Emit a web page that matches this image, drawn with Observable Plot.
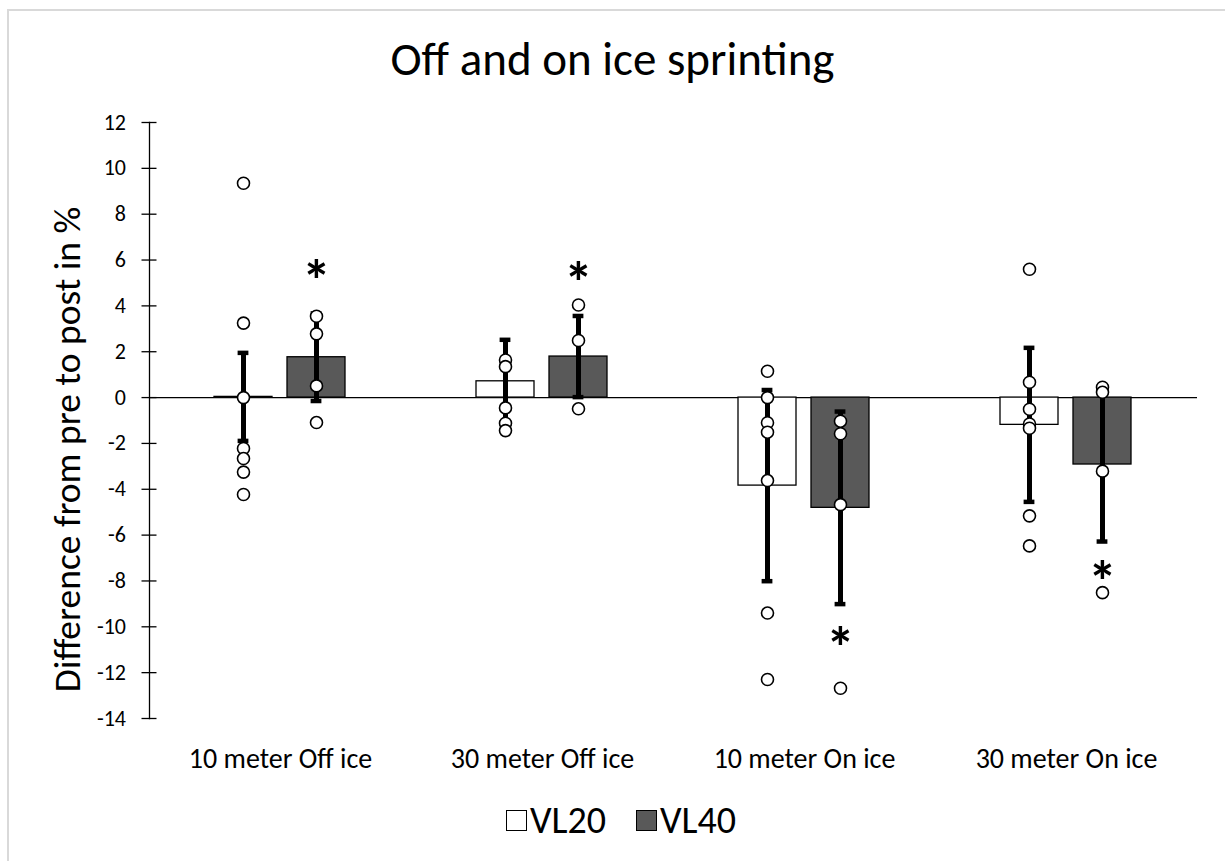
<!DOCTYPE html>
<html>
<head>
<meta charset="utf-8">
<script src="https://cdn.jsdelivr.net/npm/d3@7"></script>
<script src="https://cdn.jsdelivr.net/npm/@observablehq/plot@0.6"></script>
<style>
  body { margin: 0; background: #fff; font-family: Carlito, Lato, sans-serif; color: #000; }
  #wrap { position: relative; width: 1225px; height: 861px; overflow: hidden; background: #fff; }
  #border { position: absolute; left: 7px; top: 9px; width: 1400px; height: 1000px;
            border-left: 2px solid #d9d9d9; border-top: 2px solid #d9d9d9; }
  #title { position: absolute; left: 0; top: 36px; width: 1225px; text-align: center;
           font-size: 47px; line-height: 47px; }
  #plot { position: absolute; left: 0; top: 100px; }
  #legend { position: absolute; left: 506px; top: 801px; display: flex; align-items: center;
            font-size: 38px; line-height: 38px; white-space: nowrap; }
  .sw { width: 21px; height: 21px; border: 1px solid #000; box-sizing: border-box; margin-right: 3px; }
</style>
</head>
<body>
<div id="wrap">
  <div id="border"></div>
  <div id="title">Off and on ice sprinting</div>
  <div id="plot"></div>
  <div id="legend">
    <div class="sw" style="background:#ffffff"></div><span>VL20</span>
    <div class="sw" style="background:#595959;margin-left:30px"></div><span>VL40</span>
  </div>
</div>
<script>
// ---- data ----
const categories = ["10 meter Off ice", "30 meter Off ice", "10 meter On ice", "30 meter On ice"];
const groups = ["VL20", "VL40"];
const meanVL20 = [0.03, 0.71, -3.84, -1.19];
const meanVL40 = [1.76, 1.79, -4.81, -2.92];
const sdVL20 = [1.92, 1.81, 4.17, 3.36];
const sdVL40 = [1.91, 1.77, 4.2, 3.36];
const pointsVL20 = [
  [9.35, 3.25, 0.0, -2.22, -2.66, -3.25, -4.23],
  [1.64, 1.35, -0.45, -1.12, -1.44],
  [1.15, 0.0, -1.1, -1.51, -3.62, -9.4, -12.3],
  [5.6, 0.67, -0.51, -1.15, -1.34, -5.16, -6.47]
];
const pointsVL40 = [
  [3.55, 2.78, 0.51, -1.09],
  [4.04, 2.49, -0.49],
  [-1.03, -1.58, -4.67, -12.68],
  [0.45, 0.23, -3.21, -8.51]
];
const starVL40 = [5.6, 5.5, -10.4, -7.55];
const yTicks = [-14, -12, -10, -8, -6, -4, -2, 0, 2, 4, 6, 8, 10, 12];
const yLabel = "Difference from pre to post in %";

// ---- tables built from the arrays ----
const rows = categories.flatMap((c, i) => [
  {cat: c, grp: "VL20", mean: meanVL20[i], sd: sdVL20[i]},
  {cat: c, grp: "VL40", mean: meanVL40[i], sd: sdVL40[i]}
]);
const pts = categories.flatMap((c, i) => [
  ...pointsVL20[i].map(v => ({cat: c, grp: "VL20", v})),
  ...pointsVL40[i].map(v => ({cat: c, grp: "VL40", v}))
]);
const stars = categories.map((c, i) => ({cat: c, grp: "VL40", v: starVL40[i]}));

const chart = Plot.plot({
  width: 1225,
  height: 690,
  marginLeft: 148,
  marginRight: 27,
  marginTop: 22,
  marginBottom: 72,
  style: {fontFamily: "Carlito, Lato, sans-serif", color: "#000", background: "transparent", overflow: "visible"},
  fx: {domain: categories, padding: 0, label: null},
  x: {domain: groups, paddingInner: 0.2, paddingOuter: 0.872, axis: null},
  y: {domain: [-14, 12]},
  color: {domain: groups, range: ["#ffffff", "#595959"]},
  marks: [
    Plot.ruleY([0], {stroke: "#000", strokeWidth: 1.2}),
    Plot.barY(rows, {fx: "cat", x: "grp", y: "mean", fill: "grp", stroke: "#000", strokeWidth: 1.3}),
    Plot.ruleX(rows, {fx: "cat", x: "grp", y1: d => d.mean - d.sd, y2: d => d.mean + d.sd, stroke: "#000", strokeWidth: 5}),
    Plot.tickY(rows, {fx: "cat", x: "grp", y: d => d.mean + d.sd, stroke: "#000", strokeWidth: 4.5, insetLeft: 23.6, insetRight: 23.6}),
    Plot.tickY(rows, {fx: "cat", x: "grp", y: d => d.mean - d.sd, stroke: "#000", strokeWidth: 4.5, insetLeft: 23.6, insetRight: 23.6}),
    Plot.dot(pts, {fx: "cat", x: "grp", y: "v", r: 6, fill: "#fff", stroke: "#000", strokeWidth: 1.6}),
    Plot.text(stars, {fx: "cat", x: "grp", y: "v", text: () => "*", fontSize: 58, fontWeight: "bold", fill: "#000", dy: 13}),
    Plot.frame({anchor: "left", facetAnchor: "left", stroke: "#000", strokeWidth: 1.3}),
    Plot.axisY({ticks: yTicks, tickFormat: d => `${d}`, tickSize: 15, dx: 7.5, tickPadding: 16, fontSize: 22, label: null, stroke: "#000", strokeWidth: 1.3}),
    Plot.axisFx({anchor: "bottom", tickSize: 0, tickPadding: 30, fontSize: 28, label: null}),
    Plot.text([yLabel], {facet: "super", frameAnchor: "left", rotate: -90, textAnchor: "middle", dx: -82, dy: 29, fontSize: 37.5, text: d => d})
  ]
});
document.getElementById("plot").appendChild(chart);
</script>
</body>
</html>
